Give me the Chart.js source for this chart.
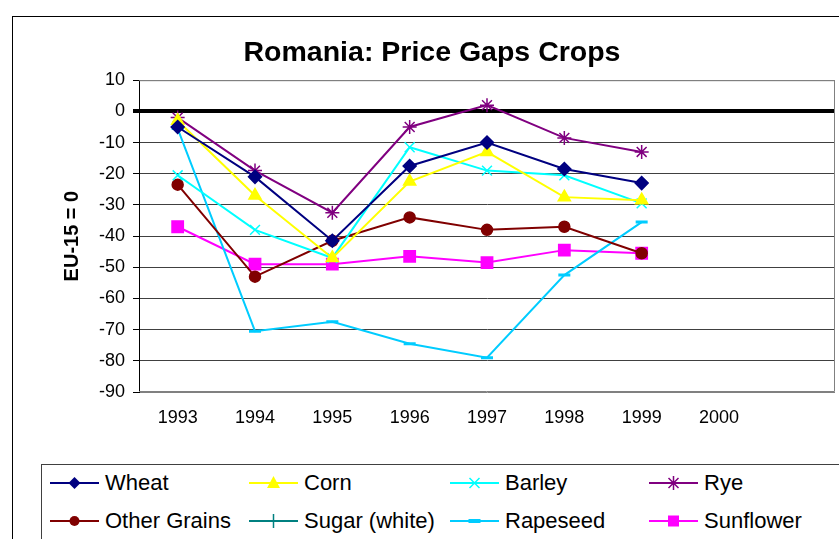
<!DOCTYPE html>
<html lang="en">
<head>
    <meta charset="UTF-8">
    <title>Romania: Price Gaps Crops</title>
    <script src="https://cdn.jsdelivr.net/npm/chart.js"></script>
    <style>
        html, body {
            margin: 0;
            padding: 0;
            overflow: hidden;
            background: #fff;
            font-family: 'Liberation Sans', Arial, sans-serif;
        }

        .frame {
            position: absolute;
            left: 12px;
            top: 16px;
            width: 900px;
            height: 600px;
            border: 1px solid #000;
        }

        .wrap {
            position: absolute;
            left: 0;
            top: 0;
            width: 864px;
            height: 440px;
        }

        .legend-box {
            position: absolute;
            left: 41px;
            top: 464px;
            width: 900px;
            height: 120px;
            border: 1px solid #404040;
        }

        .item {
            position: absolute;
            height: 24px;
            display: flex;
            align-items: center;
            font-size: 22px;
            color: #000;
            white-space: nowrap;
        }

        .item svg {
            margin-right: 6px;
        }
    </style>
</head>
<body>

<div class="frame"></div>
<div class="wrap"><canvas id="gapChart" width="864" height="440"></canvas></div>
<div class="legend-box"></div>
<div id="legend"></div>

<script>
    // values (gap vs EU-15, EU-15 = 0)
    const years = ['1993', '1994', '1995', '1996', '1997', '1998', '1999', '2000', ''];
    const wheat = [-5, -21, -41.5, -17.5, -10, -18.5, -23];
    const corn = [-3, -27, -47, -22.5, -13, -27.5, -28.5];
    const barley = [-20.5, -38, -47, -11.5, -19, -20.5, -29.5];
    const rye = [-2, -19, -32.5, -5, 2, -8.5, -13];
    const otherGrains = [-23.5, -53, -41.5, -34, -38, -37, -45.5];
    const sugarWhite = [];
    const rapeseed = [-5.5, -70.5, -67.5, -74.5, -79, -52.5, -35.5];
    const sunflower = [-37, -49, -49, -46.5, -48.5, -44.5, -45.5];
    const yTicks = [10, 0, -10, -20, -30, -40, -50, -60, -70, -80, -90];

    const series = [
        { name: 'Wheat', data: wheat, color: '#000080', style: 'rectRot', r: 6.5 },
        { name: 'Corn', data: corn, color: '#FFFF00', style: 'triangle', r: 7 },
        { name: 'Barley', data: barley, color: '#00FFFF', style: 'crossRot', r: 7 },
        { name: 'Rye', data: rye, color: '#800080', style: 'star', r: 7 },
        { name: 'Other Grains', data: otherGrains, color: '#800000', style: 'circle', r: 5.5 },
        { name: 'Sugar (white)', data: sugarWhite, color: '#008080', style: 'cross', r: 7 },
        { name: 'Rapeseed', data: rapeseed, color: '#00CCFF', style: 'line', r: 6 },
        { name: 'Sunflower', data: sunflower, color: '#FF00FF', style: 'rect', r: 8 }
    ];

    const plotBorder = {
        id: 'plotBorder',
        beforeDatasetsDraw(chart) {
            const { ctx, chartArea: a } = chart;
            ctx.save();
            ctx.strokeStyle = '#808080';
            ctx.lineWidth = 1;
            ctx.beginPath();
            ctx.moveTo(a.left, a.top + 0.5);
            ctx.lineTo(a.right - 0.5, a.top + 0.5);
            ctx.lineTo(a.right - 0.5, a.bottom - 0.5);
            ctx.lineTo(a.left, a.bottom - 0.5);
            ctx.stroke();
            ctx.restore();
        }
    };

    new Chart(document.getElementById('gapChart'), {
        type: 'line',
        data: {
            labels: years,
            datasets: series.map(s => ({
                label: s.name,
                data: s.data,
                borderColor: s.color,
                backgroundColor: s.color,
                borderWidth: 2,
                pointStyle: s.style,
                pointRadius: s.r,
                pointBorderWidth: s.style === 'line' ? 3 : 1.5,
                pointBackgroundColor: s.color,
                pointBorderColor: s.color,
                tension: 0
            }))
        },
        options: {
            responsive: false,
            animation: false,
            layout: { padding: { left: 29, right: 29, top: 0, bottom: 0 } },
            plugins: {
                legend: { display: false },
                tooltip: { enabled: false },
                title: {
                    display: true,
                    text: 'Romania: Price Gaps Crops',
                    color: '#000',
                    font: { family: 'Liberation Sans', size: 28.5, weight: 'bold' },
                    padding: { top: 36, bottom: 10 }
                }
            },
            scales: {
                x: {
                    offset: true,
                    grid: { display: false, drawTicks: false },
                    border: { display: false },
                    ticks: {
                        color: '#000',
                        padding: 15,
                        maxRotation: 0,
                        autoSkip: false,
                        font: { family: 'Liberation Sans', size: 18 }
                    },
                    afterFit: s => { s.height = 48; }
                },
                y: {
                    min: -90,
                    max: 10,
                    afterBuildTicks: s => { s.ticks = yTicks.map(v => ({ value: v })); },
                    grid: {
                        color: ctx => {
                            const v = ctx.tick ? ctx.tick.value : null;
                            if (v === 10 || v === -90) return '#808080';
                            return v === 0 ? '#000' : '#404040';
                        },
                        lineWidth: ctx => (ctx.tick && ctx.tick.value === 0) ? 4 : 1,
                        tickLength: 6,
                        tickColor: '#000'
                    },
                    border: { display: true, color: '#000', width: 1 },
                    ticks: {
                        color: '#000',
                        padding: 8,
                        font: { family: 'Liberation Sans', size: 18 }
                    },
                    title: {
                        display: true,
                        text: 'EU-15 = 0',
                        color: '#000',
                        font: { family: 'Liberation Sans', size: 20, weight: 'bold' },
                        padding: { top: 31, bottom: 0 }
                    },
                    afterFit: s => { s.width = 110; }
                }
            }
        },
        plugins: [plotBorder]
    });

    // legend: boxed 4 x 2 grid with line + marker samples
    function markerSvg(style, c) {
        const cx = 24.5, cy = 12;
        switch (style) {
            case 'rectRot': return `<polygon points="${cx},${cy - 6} ${cx + 6},${cy} ${cx},${cy + 6} ${cx - 6},${cy}" fill="${c}"/>`;
            case 'triangle': return `<polygon points="${cx},${cy - 7} ${cx + 6.5},${cy + 5} ${cx - 6.5},${cy + 5}" fill="${c}"/>`;
            case 'crossRot': return `<path d="M${cx - 5} ${cy - 5}L${cx + 5} ${cy + 5}M${cx + 5} ${cy - 5}L${cx - 5} ${cy + 5}" stroke="${c}" stroke-width="1.5"/>`;
            case 'star': return `<path d="M${cx - 5} ${cy - 5}L${cx + 5} ${cy + 5}M${cx + 5} ${cy - 5}L${cx - 5} ${cy + 5}M${cx} ${cy - 7}L${cx} ${cy + 7}" stroke="${c}" stroke-width="1.5"/>`;
            case 'circle': return `<circle cx="${cx}" cy="${cy}" r="5" fill="${c}"/>`;
            case 'cross': return `<path d="M${cx} ${cy - 7}L${cx} ${cy + 7}" stroke="${c}" stroke-width="1.5"/>`;
            case 'line': return `<rect x="${cx - 6}" y="${cy - 2}" width="12" height="4" fill="${c}"/>`;
            case 'rect': return `<rect x="${cx - 5.5}" y="${cy - 5.5}" width="11" height="11" fill="${c}"/>`;
        }
        return '';
    }

    const legendCols = [50, 249, 450, 649];
    const legendRows = [483, 521];
    const legend = document.getElementById('legend');
    series.forEach((s, i) => {
        const el = document.createElement('div');
        el.className = 'item';
        el.style.left = legendCols[i % 4] + 'px';
        el.style.top = (legendRows[Math.floor(i / 4)] - 12) + 'px';
        el.innerHTML = `<svg width="49" height="24"><line x1="0" y1="12" x2="49" y2="12" stroke="${s.color}" stroke-width="2"/>${markerSvg(s.style, s.color)}</svg><span>${s.name}</span>`;
        legend.appendChild(el);
    });
</script>

</body>
</html>
